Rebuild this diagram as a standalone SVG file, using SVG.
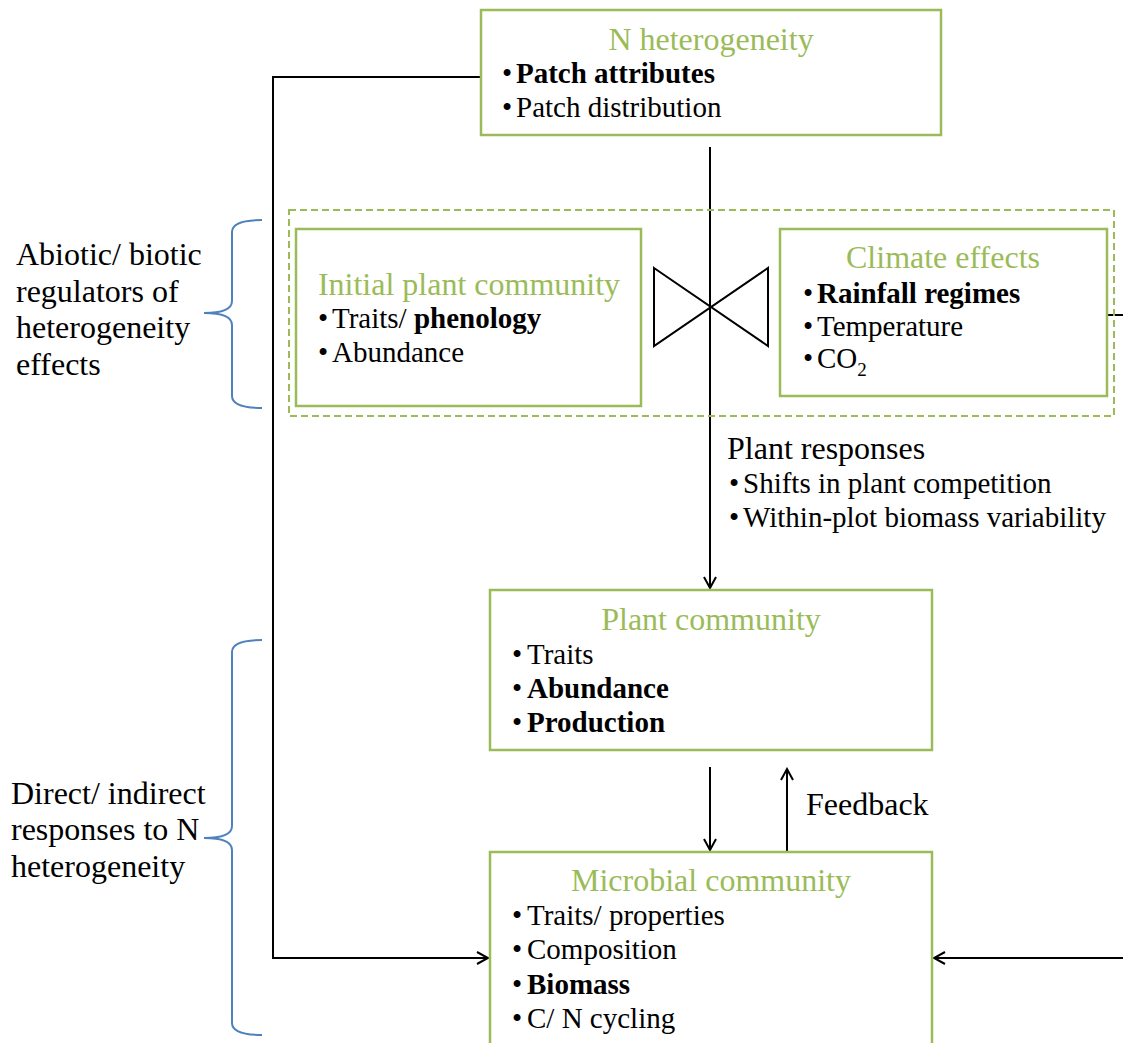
<svg xmlns="http://www.w3.org/2000/svg" width="1123" height="1043" viewBox="0 0 1123 1043">
<style>
.box{fill:#fff;stroke:#9BBB59;stroke-width:2.5}
.dash{fill:none;stroke:#9BBB59;stroke-width:2;stroke-dasharray:7,4}
.t{font-family:"Liberation Serif","Times New Roman",serif;font-size:29px;fill:#000}
.h{font-family:"Liberation Serif","Times New Roman",serif;font-size:32px;fill:#9BBB59}
.l{font-family:"Liberation Serif","Times New Roman",serif;font-size:32px;fill:#000}
.b{font-weight:bold}
.ln{fill:none;stroke:#000;stroke-width:2}
.br{fill:none;stroke:#4F81BD;stroke-width:2}
</style>
<defs>
<marker id="arr" markerWidth="14" markerHeight="14" refX="12" refY="7" orient="auto" markerUnits="userSpaceOnUse">
<path d="M1,1 L12,7 L1,13" fill="none" stroke="#000" stroke-width="2"/>
</marker>
</defs>
<rect width="1123" height="1043" fill="#fff"/>

<g id="connectors">
<path class="ln" d="M481,77 H273 V958 H488" marker-end="url(#arr)"/>
<path class="ln" d="M710,147 V588" marker-end="url(#arr)"/>
<path class="ln" d="M1107,315 H1123"/>
<path class="ln" d="M1123,958 H934" marker-end="url(#arr)"/>
<path class="ln" d="M710,767 V850" marker-end="url(#arr)"/>
<path class="ln" d="M787,852 V769" marker-end="url(#arr)"/>
<path class="ln" d="M654,268 L768,346 V268 L654,346 Z" stroke-linejoin="miter"/>
</g>

<g id="n-heterogeneity">
<rect class="box" x="481" y="10" width="460" height="125"/>
<text class="h" x="711" y="50" text-anchor="middle">N heterogeneity</text>
<text class="t" x="502" y="83">•<tspan x="516" class="b">Patch attributes</tspan></text>
<text class="t" x="502" y="117">•<tspan x="516">Patch distribution</tspan></text>
</g>

<g id="regulators">
<rect class="dash" x="289" y="210" width="825" height="206"/>
</g>

<g id="initial-plant-community">
<rect class="box" x="296" y="229" width="345" height="177"/>
<text class="h" x="469" y="295" text-anchor="middle">Initial plant community</text>
<text class="t" x="318" y="328">•<tspan x="332">Traits/ </tspan><tspan class="b">phenology</tspan></text>
<text class="t" x="318" y="362">•<tspan x="332">Abundance</tspan></text>
</g>

<g id="climate-effects">
<rect class="box" x="780" y="229" width="327" height="167"/>
<text class="h" x="943" y="268" text-anchor="middle">Climate effects</text>
<text class="t" x="803" y="303">•<tspan x="817" class="b">Rainfall regimes</tspan></text>
<text class="t" x="803" y="336">•<tspan x="817">Temperature</tspan></text>
<text class="t" x="803" y="368">•<tspan x="817">CO</tspan><tspan font-size="19" dy="8">2</tspan></text>
</g>

<g id="plant-responses">
<text class="l" x="727" y="459">Plant responses</text>
<text class="t" x="729" y="493">•<tspan x="743">Shifts in plant competition</tspan></text>
<text class="t" x="729" y="527">•<tspan x="743">Within-plot biomass variability</tspan></text>
</g>

<g id="plant-community">
<rect class="box" x="490" y="590" width="442" height="160"/>
<text class="h" x="711" y="630" text-anchor="middle">Plant community</text>
<text class="t" x="512" y="664">•<tspan x="527">Traits</tspan></text>
<text class="t" x="512" y="698">•<tspan x="527" class="b">Abundance</tspan></text>
<text class="t" x="512" y="732">•<tspan x="527" class="b">Production</tspan></text>
</g>

<g id="feedback">
<text class="l" x="806" y="815">Feedback</text>
</g>

<g id="microbial-community">
<rect class="box" x="490" y="852" width="442" height="200"/>
<text class="h" x="711" y="891" text-anchor="middle">Microbial community</text>
<text class="t" x="512" y="925">•<tspan x="527">Traits/ properties</tspan></text>
<text class="t" x="512" y="959">•<tspan x="527">Composition</tspan></text>
<text class="t" x="512" y="994">•<tspan x="527" class="b">Biomass</tspan></text>
<text class="t" x="512" y="1028">•<tspan x="527">C/ N cycling</tspan></text>
</g>

<g id="brace-regulators">
<path class="br" d="M262,220 Q232,220 232,232 V301 Q232,313 204,313 Q232,313 232,325 V396 Q232,408 262,408"/>
<text class="l" x="16" y="265">Abiotic/ biotic</text>
<text class="l" x="16" y="302">regulators of</text>
<text class="l" x="16" y="338">heterogeneity</text>
<text class="l" x="16" y="375">effects</text>
</g>

<g id="brace-responses">
<path class="br" d="M262,640 Q232,640 232,652 V826 Q232,838 204,838 Q232,838 232,850 V1023 Q232,1035 262,1035"/>
<text class="l" x="11" y="804">Direct/ indirect</text>
<text class="l" x="11" y="840">responses to N</text>
<text class="l" x="11" y="877">heterogeneity</text>
</g>
</svg>
